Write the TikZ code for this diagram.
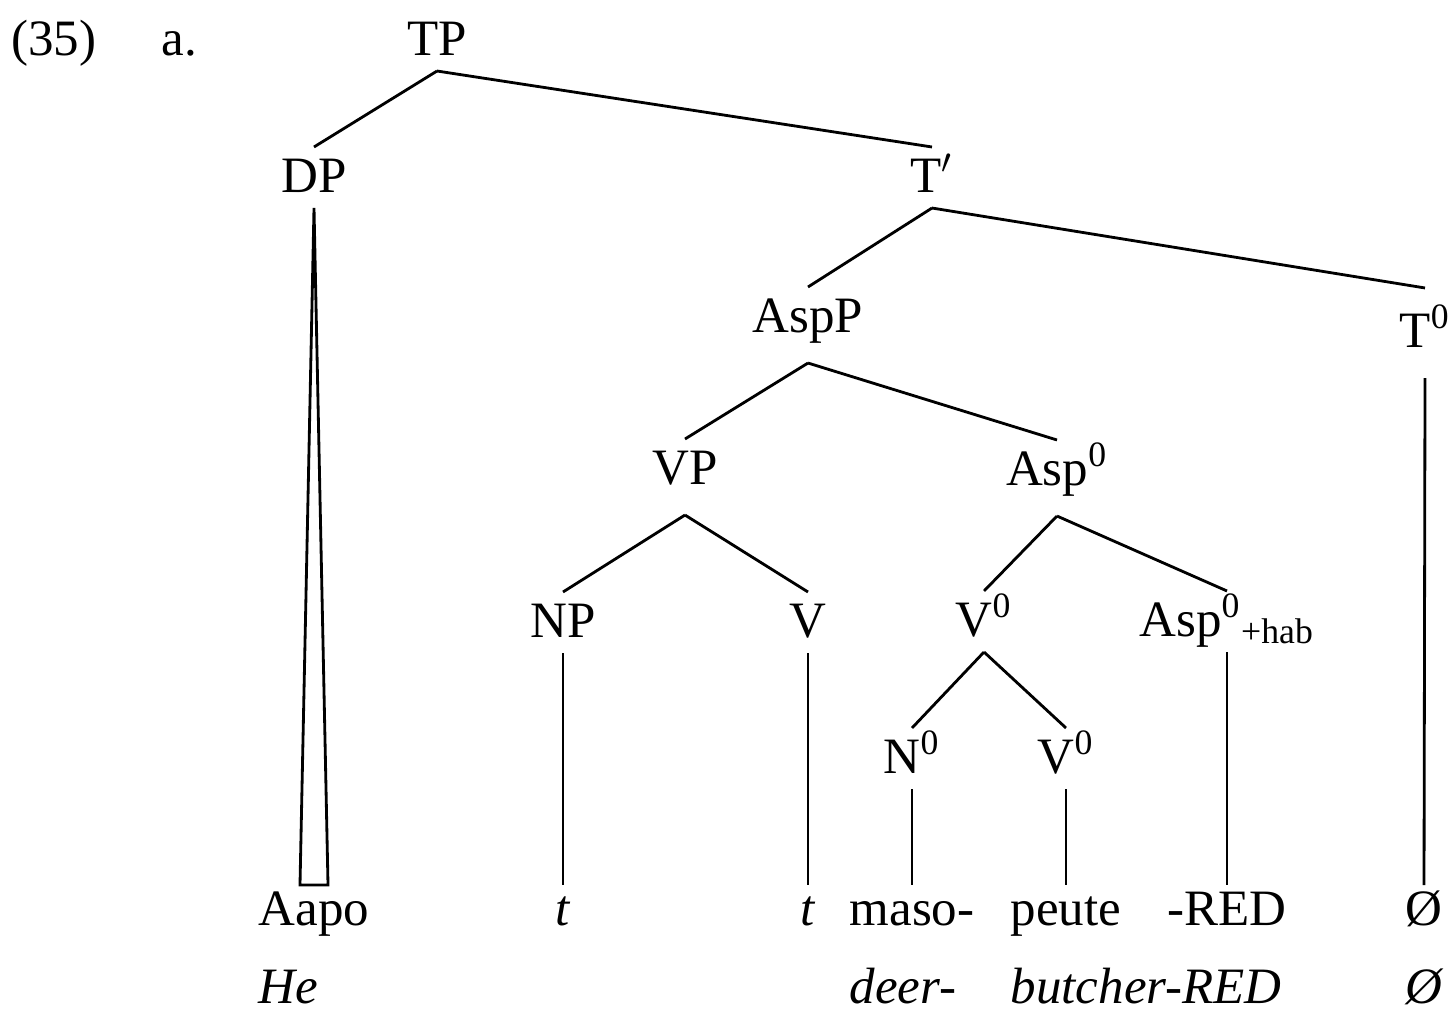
\documentclass[tikz,border=0pt]{standalone}
\usepackage{fontspec}
\setmainfont{Liberation Serif}
\usetikzlibrary{positioning}

\newcommand\treefont{\fontsize{14.5}{17}\selectfont}

\begin{document}
\begin{tikzpicture}[x=0.01cm, y=-0.01cm, line width=0.8pt, font=\treefont]
    \tikzset{
      cat/.style={anchor=base, inner sep=0pt, outer ysep=0.12cm,
        text height=0.33cm, text depth=0.04cm},
      deep cat/.style={cat, text depth=0.19cm},
      leaf/.style={anchor=base, inner sep=0pt, outer ysep=0.07cm,
        text height=0.33cm, text depth=0.04cm},
      gloss/.style={anchor=base west, inner sep=0pt, font=\treefont\itshape},
    }
    \useasboundingbox (0,0) rectangle (1452,1011);

    % Example number
    \node (exnum) [anchor=base west, inner sep=0pt] at (10,55) {(35)};
    \node (exsub) [anchor=base west, inner sep=0pt] at (160,55) {a.};

    % Categories
    \node (TP) [cat] at (437,55) {TP};
    \node (DP) [cat] at (314,192) {DP};
    \node (Tbar) [cat] at (932,192) {T$'$};
    \node (AspP) [deep cat] at (808,332) {AspP};
    \node (T0) [deep cat, text height=0.47cm] at (1425,347) {T\textsuperscript{0}};
    \node (VP) [deep cat] at (685,484) {VP};
    \node (Asp0) [deep cat] at (1057,485) {Asp\textsuperscript{0}};
    \node (NP) [cat] at (563,637) {NP};
    \node (V) [cat] at (808,637) {V};
    \node (V0) [cat] at (984,636) {V\textsuperscript{0}};
    \node (AspHab) [cat] at (1227,636) {Asp\textsuperscript{0}\textsubscript{+hab}};
    \node (N0) [cat] at (912,773) {N\textsuperscript{0}};
    \node (V0low) [cat] at (1066,773) {V\textsuperscript{0}};

    % Words
    \node (Aapo) [leaf] at (314,925) {Aapo};
    \node (tNP) [leaf] at (563,925) {\textit{t}};
    \node (tV) [leaf] at (808,925) {\textit{t}};
    \node (maso) [leaf] at (912,925) {maso-};
    \node (peute) [leaf] at (1066,925) {peute};
    \node (RED) [leaf] at (1227,925) {-RED};
    \node (nullT) [leaf] at (1424,925) {Ø};

    % Glosses
    \coordinate (glossrow) at (0,1003);
    \node (He) [gloss] at (Aapo.base west |- glossrow) {He};
    \node (deer) [gloss] at (maso.base west |- glossrow) {deer-};
    \node (butcher) [gloss] at (peute.base west |- glossrow) {butcher-RED};
    \node (glossNull) [gloss, anchor=base] at (nullT.base |- glossrow) {Ø};

    % Branches
    \foreach \p/\c in {TP/DP, TP/Tbar, Tbar/AspP, Tbar/T0, AspP/VP, AspP/Asp0,
      VP/NP, VP/V, Asp0/V0, Asp0/AspHab, V0/N0, V0/V0low}
      \draw (\p.south) -- (\c.north);
    \foreach \p/\c in {NP/tNP, V/tV, N0/maso, V0low/peute, AspHab/RED, T0/nullT}
      \draw (\p.south) -- (\c.north);
    % Triangle
    \draw (DP.south) -- ([xshift=-0.14cm]Aapo.north)
      -- ([xshift=0.14cm]Aapo.north) -- cycle;
\end{tikzpicture}
\end{document}
